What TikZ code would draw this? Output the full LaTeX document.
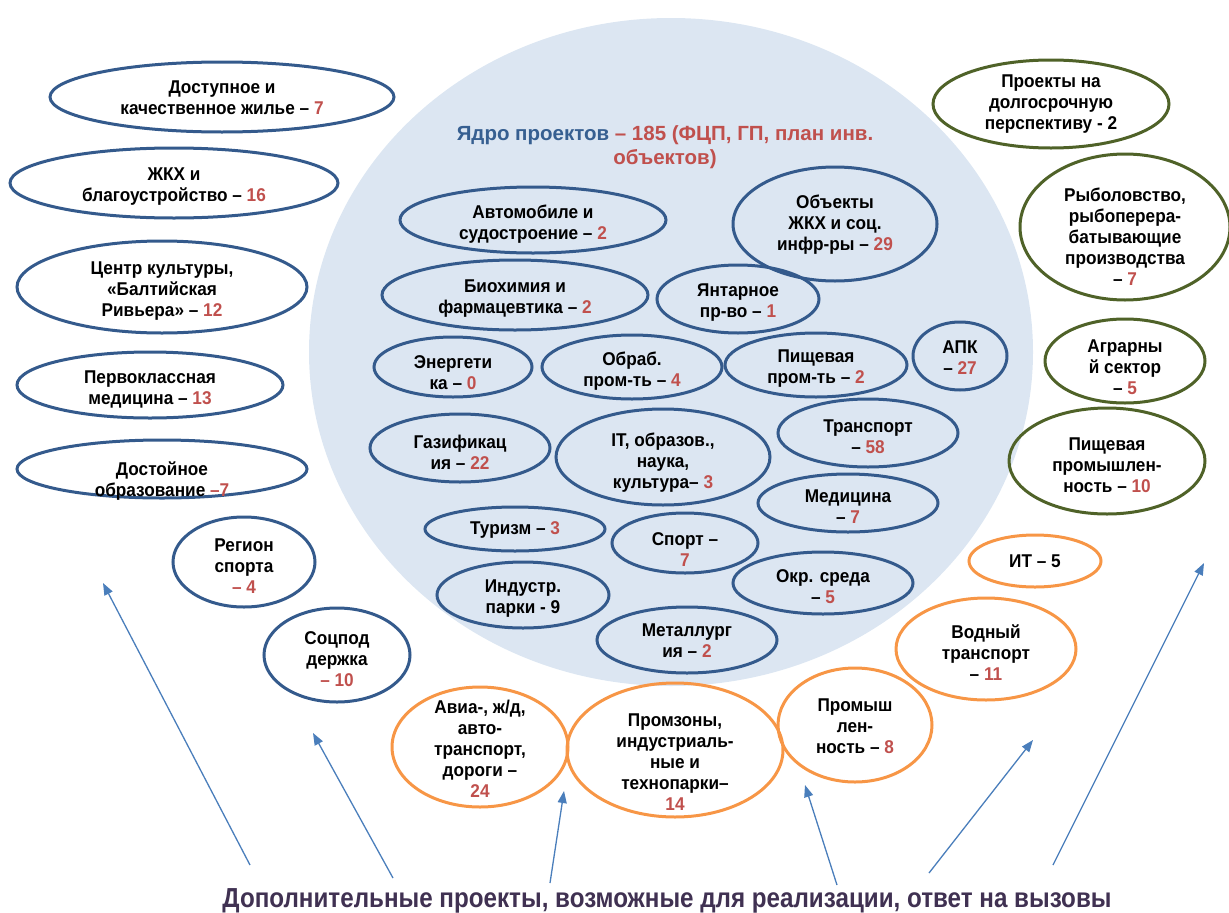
\documentclass[tikz,border=0pt]{standalone}
\usepackage{fontspec}
\setmainfont{Liberation Sans}
\newfontfamily\ellfont[FakeStretch=0.93]{Liberation Sans}
\newfontfamily\narrowfont[FakeStretch=0.88]{Liberation Sans}
\usetikzlibrary{shapes.geometric,arrows.meta}
\definecolor{ellblue}{RGB}{52,90,140}
\definecolor{corefill}{RGB}{220,230,242}
\definecolor{ellgreen}{RGB}{79,98,40}
\definecolor{ellorange}{RGB}{247,150,70}
\definecolor{numred}{RGB}{192,80,77}
\definecolor{arrblue}{RGB}{74,126,187}
\definecolor{titleblue}{RGB}{54,95,145}
\definecolor{bottompurple}{RGB}{64,49,82}
\newcommand{\rn}[1]{\textcolor{numred}{#1}}
\begin{document}
\begin{tikzpicture}[x=1pt,y=-1pt,
  ell/.style={ellipse, line width=3pt, inner sep=0pt, outer sep=0pt},
  blueell/.style={ell, draw=ellblue},
  greenell/.style={ell, draw=ellgreen},
  orangeell/.style={ell, draw=ellorange},
  sz/.style 2 args={minimum width=#1pt, minimum height=#2pt},
  txt/.style={font=\ellfont\bfseries\fontsize{18.5}{21}\selectfont, align=center, text=black, inner sep=0pt, yshift=-4pt},
  arr/.style={draw=arrblue, line width=1.3pt, -{Triangle[length=12pt,width=9pt]}},
  ]
\useasboundingbox (0,0) rectangle (1229,913);
% core
\node[ellipse, fill=corefill, inner sep=0pt, sz={724}{668}] (core) at (671,352) {};
\node[font=\bfseries\fontsize{20.5}{24}\selectfont, align=center, text=titleblue, inner sep=0pt] (title) at (665,147) {Ядро проектов \textcolor{numred}{– 185 (ФЦП, ГП, план инв.}\\\textcolor{numred}{объектов)}};
% left outer
\node[blueell, sz={344}{70}, label={[txt, yshift=3pt]center:{Доступное и\\качественное жилье – \rn{7}}}] (l1) at (222,97) {};
\node[blueell, sz={328}{70}, label={[txt]center:{ЖКХ и\\благоустройство – \rn{16}}}] (l2) at (174,183) {};
\node[blueell, sz={290}{92}, label={[txt]center:{Центр культуры,\\«Балтийская\\Ривьера» – \rn{12}}}] (l3) at (162,287) {};
\node[blueell, sz={266}{66}, label={[txt]center:{Первоклассная\\медицина – \rn{13}}}] (l4) at (150,385) {};
\node[blueell, sz={290}{58}, label={[txt, yshift=-8pt]center:{Достойное\\образование \rn{–7}}}] (l5) at (162,469) {};
\node[blueell, sz={142}{90}, label={[txt]center:{Регион\\спорта\\\rn{– 4}}}] (l6) at (244,562) {};
\node[blueell, sz={146}{94}, label={[txt]center:{Соцпод\\держка\\\rn{– 10}}}] (l7) at (337,655) {};
% inner
\node[blueell, sz={266}{66}, label={[txt]center:{Автомобиле и\\судостроение – \rn{2}}}] (i1) at (533,220) {};
\node[blueell, sz={266}{70}, label={[txt]center:{Биохимия и\\фармацевтика – \rn{2}}}] (i2) at (515,295) {};
\node[blueell, sz={162}{68}, label={[txt]center:{Янтарное\\пр-во – \rn{1}}}] (i3) at (738,299) {};
\node[blueell, sz={204}{114}, label={[txt, yshift=3pt]center:{Объекты\\ЖКХ и соц.\\инфр-ры – \rn{29}}}] (i4) at (835,224) {};
\node[blueell, sz={158}{60}, label={[txt, yshift=-2pt]center:{Энергети\\ка – \rn{0}}}] (i5) at (453,367) {};
\node[blueell, sz={180}{64}, label={[txt]center:{Обраб.\\пром-ть – \rn{4}}}] (i6) at (632,367) {};
\node[blueell, sz={182}{64}, label={[txt]center:{Пищевая\\пром-ть – \rn{2}}}] (i7) at (816,365) {};
\node[blueell, sz={94}{68}, label={[txt, yshift=2pt]center:{АПК\\– \rn{27}}}] (i8) at (960,356) {};
\node[blueell, sz={180}{68}, label={[txt]center:{Газификац\\ия – \rn{22}}}] (i9) at (460,448) {};
\node[blueell, sz={214}{96}, label={[txt, yshift=-2pt]center:{IT, образов.,\\наука,\\культура– \rn{3}}}] (i10) at (663,457) {};
\node[blueell, sz={180}{68}, label={[txt]center:{Транспорт\\– \rn{58}}}] (i11) at (868,433) {};
\node[blueell, sz={180}{58}, label={[txt]center:{Медицина\\– \rn{7}}}] (i12) at (848,503) {};
\node[blueell, sz={180}{44}, label={[txt, yshift=3pt]center:{Туризм – \rn{3}}}] (i13) at (515,529) {};
\node[blueell, sz={146}{60}, label={[txt, yshift=-3pt]center:{Спорт –\\\rn{7}}}] (i14) at (685,543) {};
\node[blueell, sz={180}{62}, label={[txt]center:{Окр. среда\\– \rn{5}}}] (i15) at (823,583) {};
\node[blueell, sz={172}{66}, label={[txt]center:{Индустр.\\парки - 9}}] (i16) at (523,595) {};
\node[blueell, sz={180}{66}, label={[txt, yshift=3pt]center:{Металлург\\ия – \rn{2}}}] (i17) at (687,640) {};
% green
\node[greenell, sz={236}{88}, label={[txt, yshift=4pt]center:{Проекты на\\долгосрочную\\перспективу - 2}}] (g1) at (1051,104) {};
\node[greenell, sz={210}{146}, label={[txt, yshift=-6pt]center:{Рыболовство,\\рыбоперера-\\батывающие\\производства\\– \rn{7}}}] (g2) at (1125,227) {};
\node[greenell, sz={160}{84}, label={[txt, yshift=-2pt]center:{Аграрны\\й сектор\\– \rn{5}}}] (g3) at (1125,361) {};
\node[greenell, sz={196}{106}, label={[txt]center:{Пищевая\\промышлен-\\ность – \rn{10}}}] (g4) at (1107,461) {};
% orange
\node[orangeell, sz={132}{52}, label={[txt, yshift=4pt]center:{ИТ – 5}}] (o1) at (1035,561) {};
\node[orangeell, sz={180}{102}, label={[txt]center:{Водный\\транспорт\\– \rn{11}}}] (o2) at (986,649) {};
\node[orangeell, sz={154}{114}, label={[txt, yshift=3pt]center:{Промыш\\лен-\\ность – \rn{8}}}] (o3) at (855,725) {};
\node[orangeell, sz={216}{134}, label={[txt, yshift=-8pt]center:{Промзоны,\\индустриаль-\\ные и\\технопарки–\\\rn{14}}}] (o4) at (675,750) {};
\node[orangeell, sz={176}{120}, label={[txt, yshift=2pt]center:{Авиа-, ж/д,\\авто-\\транспорт,\\дороги –\\\rn{24}}}] (o5) at (480,747) {};
% bottom text
\node[anchor=base, font=\narrowfont\bfseries\fontsize{27.5}{30}\selectfont, text=bottompurple, inner sep=0pt] (bottom) at (667,907) {Дополнительные проекты, возможные для реализации, ответ на вызовы};
% arrows
\coordinate (a1s) at (250,865); \coordinate (a1e) at (103,583);
\coordinate (a2s) at (393,878); \coordinate (a2e) at (313,733);
\coordinate (a3s) at (550,883); \coordinate (a3e) at (564,791);
\coordinate (a4s) at (837,885); \coordinate (a4e) at (805,785);
\coordinate (a5s) at (929,873); \coordinate (a5e) at (1033,740);
\coordinate (a6s) at (1053,865); \coordinate (a6e) at (1204,563);
\draw[arr] (a1s) -- (a1e);
\draw[arr] (a2s) -- (a2e);
\draw[arr] (a3s) -- (a3e);
\draw[arr] (a4s) -- (a4e);
\draw[arr] (a5s) -- (a5e);
\draw[arr] (a6s) -- (a6e);
\end{tikzpicture}
\end{document}
